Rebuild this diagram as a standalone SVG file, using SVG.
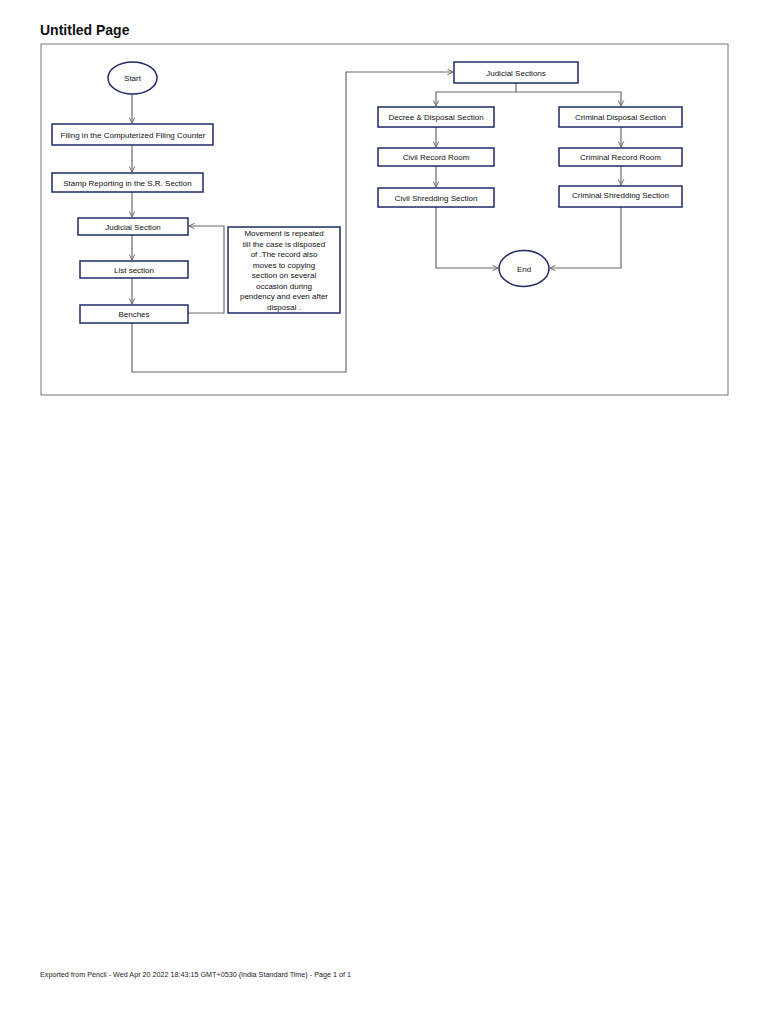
<svg xmlns="http://www.w3.org/2000/svg" width="768" height="1024" viewBox="0 0 768 1024">
<defs>
<marker id="arr" viewBox="0 0 10 10" refX="9" refY="5" markerWidth="7" markerHeight="7" orient="auto" markerUnits="userSpaceOnUse">
<path d="M1,1 L9,5 L1,9" fill="none" stroke="#6a6a6a" stroke-width="1.4"/>
</marker>
</defs>
<style>
.box{fill:#fff;stroke:#1f2a66;stroke-width:1.5}
.t{font-family:"Liberation Sans",Arial,sans-serif;font-size:8px;fill:#111;text-anchor:middle}
.c{fill:none;stroke:#6a6a6a;stroke-width:1.2}
</style>
<rect width="768" height="1024" fill="#fff"/>
<text x="40" y="35" font-family="Liberation Sans,Arial,sans-serif" font-size="14" font-weight="bold" fill="#111">Untitled Page</text>
<rect x="41" y="44" width="687" height="351" fill="none" stroke="#777" stroke-width="1"/>

<g id="connectors">
<path class="c" d="M132,94 L132,123" marker-end="url(#arr)"/>
<path class="c" d="M132,145 L132,172" marker-end="url(#arr)"/>
<path class="c" d="M132,192 L132,217" marker-end="url(#arr)"/>
<path class="c" d="M132,235 L132,260" marker-end="url(#arr)"/>
<path class="c" d="M132,278 L132,304" marker-end="url(#arr)"/>
<path class="c" d="M188,313 L224,313 L224,226 L189,226" marker-end="url(#arr)"/>
<path class="c" d="M132,323 L132,372 L346,372 L346,72 L453,72" marker-end="url(#arr)"/>
<path class="c" d="M516,83 L516,92 L436,92 L436,106" marker-end="url(#arr)"/>
<path class="c" d="M516,92 L621,92 L621,106" marker-end="url(#arr)"/>
<path class="c" d="M436,127 L436,147" marker-end="url(#arr)"/>
<path class="c" d="M621,127 L621,147" marker-end="url(#arr)"/>
<path class="c" d="M436,166 L436,187" marker-end="url(#arr)"/>
<path class="c" d="M621,166 L621,185" marker-end="url(#arr)"/>
<path class="c" d="M436,207 L436,268 L498,268" marker-end="url(#arr)"/>
<path class="c" d="M621,207 L621,268 L550,268" marker-end="url(#arr)"/>
</g>

<g id="start">
<ellipse class="box" cx="132.5" cy="78" rx="24.5" ry="16"/>
<text class="t" x="132.5" y="81">Start</text>
</g>
<g id="filing">
<rect class="box" x="52" y="124" width="161" height="21"/>
<text class="t" x="133" y="137.5">Filing in the Computerized Filing Counter</text>
</g>
<g id="stamp">
<rect class="box" x="52" y="173" width="151" height="19"/>
<text class="t" x="127.5" y="185.5">Stamp Reporting in the S.R. Section</text>
</g>
<g id="judicial">
<rect class="box" x="78" y="218" width="110" height="17"/>
<text class="t" x="133" y="229.5">Judicial Section</text>
</g>
<g id="list">
<rect class="box" x="80" y="261" width="108" height="17"/>
<text class="t" x="134" y="272.5">List section</text>
</g>
<g id="benches">
<rect class="box" x="80" y="305" width="108" height="18"/>
<text class="t" x="134" y="317">Benches</text>
</g>
<g id="note">
<rect class="box" x="228" y="227" width="112" height="86"/>
<text class="t" x="284" y="236">Movement is repeated</text>
<text class="t" x="284" y="246.5">till the case is disposed</text>
<text class="t" x="284" y="257">of .The record also</text>
<text class="t" x="284" y="267.5">moves to copying</text>
<text class="t" x="284" y="278">section on several</text>
<text class="t" x="284" y="288.5">occasion during</text>
<text class="t" x="284" y="299">pendency and even after</text>
<text class="t" x="284" y="309.5">disposal .</text>
</g>
<g id="judicial-sections">
<rect class="box" x="454" y="62" width="124" height="21"/>
<text class="t" x="516" y="75.5">Judicial Sections</text>
</g>
<g id="decree">
<rect class="box" x="378" y="107" width="116" height="20"/>
<text class="t" x="436" y="120">Decree &amp; Disposal Section</text>
</g>
<g id="criminal-disposal">
<rect class="box" x="559" y="107" width="123" height="20"/>
<text class="t" x="620.5" y="120">Criminal Disposal Section</text>
</g>
<g id="civil-record">
<rect class="box" x="378" y="148" width="116" height="18"/>
<text class="t" x="436" y="160">Civil Record Room</text>
</g>
<g id="criminal-record">
<rect class="box" x="559" y="148" width="123" height="18"/>
<text class="t" x="620.5" y="160">Criminal Record Room</text>
</g>
<g id="civil-shredding">
<rect class="box" x="378" y="188" width="116" height="19"/>
<text class="t" x="436" y="200.5">Civil Shredding Section</text>
</g>
<g id="criminal-shredding">
<rect class="box" x="559" y="186" width="123" height="21"/>
<text class="t" x="620.5" y="198">Criminal Shredding Section</text>
</g>
<g id="end">
<ellipse class="box" cx="524" cy="268.5" rx="25" ry="18"/>
<text class="t" x="524" y="271.5">End</text>
</g>
<text x="40" y="977" font-family="Liberation Sans,Arial,sans-serif" font-size="7.2" fill="#222">Exported from Pencil - Wed Apr 20 2022 18:43:15 GMT+0530 (India Standard Time) - Page 1 of 1</text>
</svg>
